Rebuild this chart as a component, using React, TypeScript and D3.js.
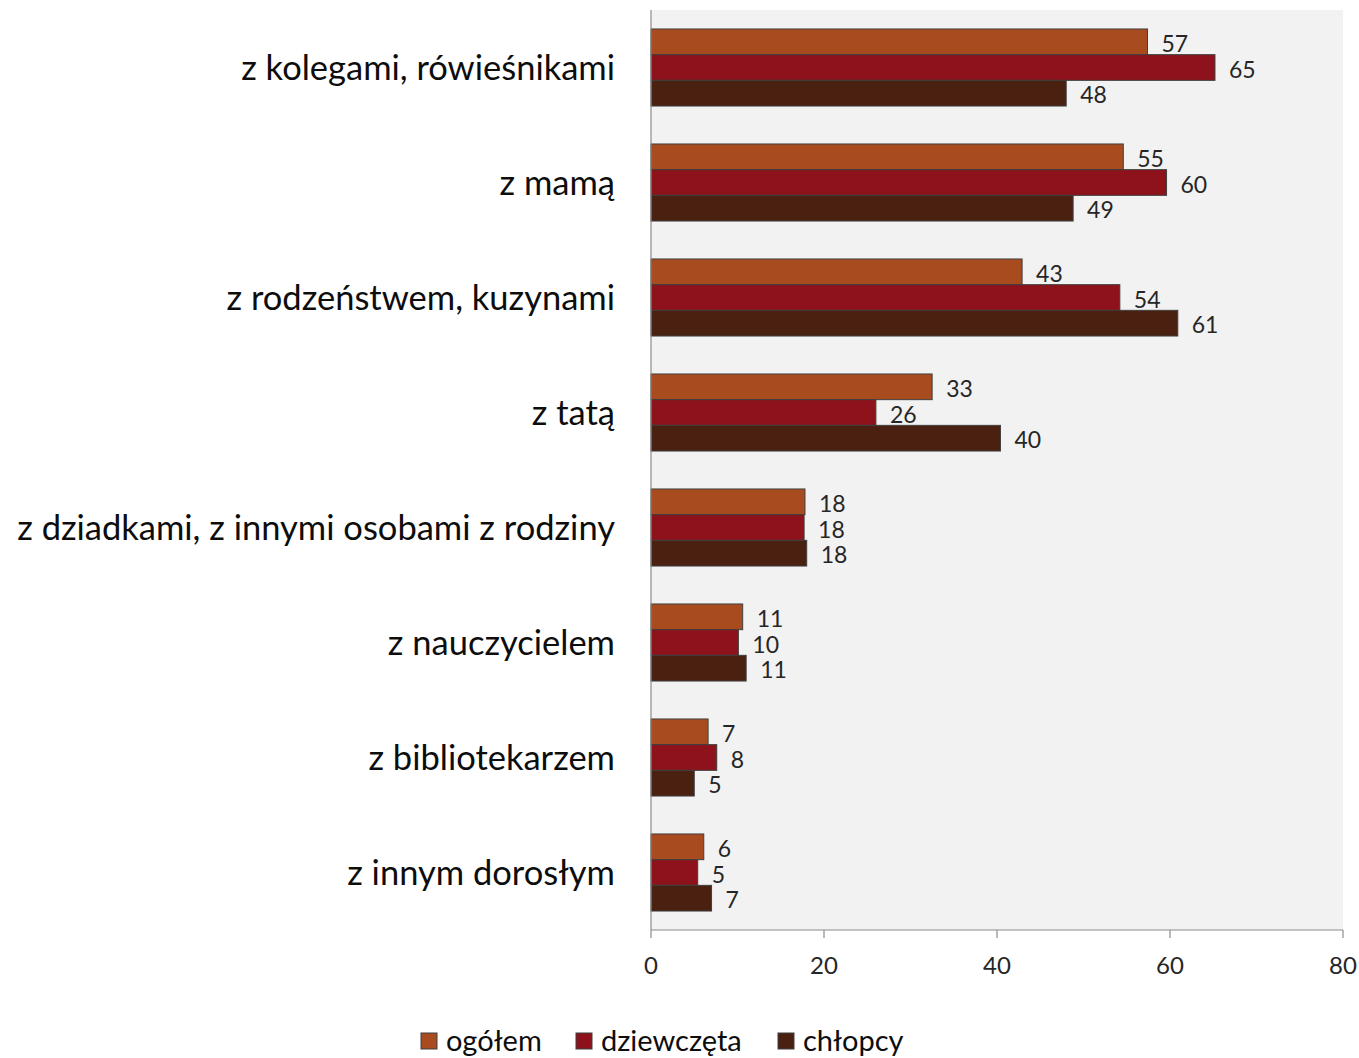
import React from "react";
import * as d3 from "d3";

const categories = [
  "z kolegami, rówieśnikami",
  "z mamą",
  "z rodzeństwem, kuzynami",
  "z tatą",
  "z dziadkami, z innymi osobami z rodziny",
  "z nauczycielem",
  "z bibliotekarzem",
  "z innym dorosłym",
];

const seriesNames = ["ogółem", "dziewczęta", "chłopcy"];
const seriesColors = ["#a84c20", "#8e121b", "#4a2010"];

const ogolem = [57.4, 54.6, 42.9, 32.5, 17.8, 10.6, 6.6, 6.1];
const dziewczeta = [65.2, 59.6, 54.2, 26.0, 17.7, 10.1, 7.6, 5.4];
const chlopcy = [48.0, 48.8, 60.9, 40.4, 18.0, 11.0, 5.0, 7.0];

const xTicks = [0, 20, 40, 60, 80];

const seriesValues = [ogolem, dziewczeta, chlopcy];

const W = 1359;
const H = 1058;
const FONT = "Lato, 'Open Sans', sans-serif";

export default function App() {
  const left = 651;
  const right = 1343;
  const top = 10;
  const bottom = 930;

  const x = d3.scaleLinear().domain([0, 80]).range([left, right]);
  const y = d3
    .scaleBand<string>()
    .domain(categories)
    .range([top, bottom])
    .paddingInner(0.33)
    .paddingOuter(0.165);
  const inner = d3
    .scaleBand<string>()
    .domain(seriesNames)
    .range([0, y.bandwidth()]);

  const legendX = [421, 576, 778];

  return (
    <svg
      width={W}
      height={H}
      style={{ position: "absolute", left: 0, top: 0, background: "#fff" }}
      fontFamily={FONT}
    >
      <rect x={left} y={top} width={right - left} height={bottom - top} fill="#f2f2f2" />
      {/* category labels */}
      {categories.map((c) => (
        <text
          key={c}
          x={615}
          y={(y(c) ?? 0) + y.bandwidth() / 2}
          dy="0.36em"
          textAnchor="end"
          fontSize={34.5}
          fill="#0d0d0d"
        >
          {c}
        </text>
      ))}
      {/* bars */}
      {categories.map((c, ci) =>
        seriesNames.map((s, si) => {
          const v = seriesValues[si][ci];
          const by = (y(c) ?? 0) + (inner(s) ?? 0);
          const bh = inner.bandwidth();
          return (
            <g key={c + s}>
              <rect
                x={x(0)}
                y={by}
                width={x(v) - x(0)}
                height={bh}
                fill={seriesColors[si]}
                stroke="#3f3f3f"
                strokeWidth={1}
              />
              <text
                x={x(v) + 14}
                y={by + bh / 2}
                dy="0.44em"
                fontSize={23}
                fill="#262626"
              >
                {Math.round(v)}
              </text>
            </g>
          );
        })
      )}
      {/* axes */}
      <line x1={left} x2={left} y1={top} y2={bottom} stroke="#8c8c8c" strokeWidth={1.2} />
      <line x1={left} x2={right} y1={bottom} y2={bottom} stroke="#8c8c8c" strokeWidth={1.2} />
      {xTicks.map((t) => (
        <g key={t}>
          <line x1={x(t)} x2={x(t)} y1={bottom} y2={bottom + 8} stroke="#8c8c8c" strokeWidth={1.2} />
          <text x={x(t)} y={974} textAnchor="middle" fontSize={24} fill="#262626">
            {t}
          </text>
        </g>
      ))}
      {/* legend */}
      {seriesNames.map((s, i) => (
        <g key={s}>
          <rect
            x={legendX[i]}
            y={1033}
            width={16}
            height={16}
            fill={seriesColors[i]}
            stroke="#3f3f3f"
            strokeWidth={1}
          />
          <text x={legendX[i] + 25} y={1051} fontSize={29} fill="#0d0d0d">
            {s}
          </text>
        </g>
      ))}
    </svg>
  );
}
